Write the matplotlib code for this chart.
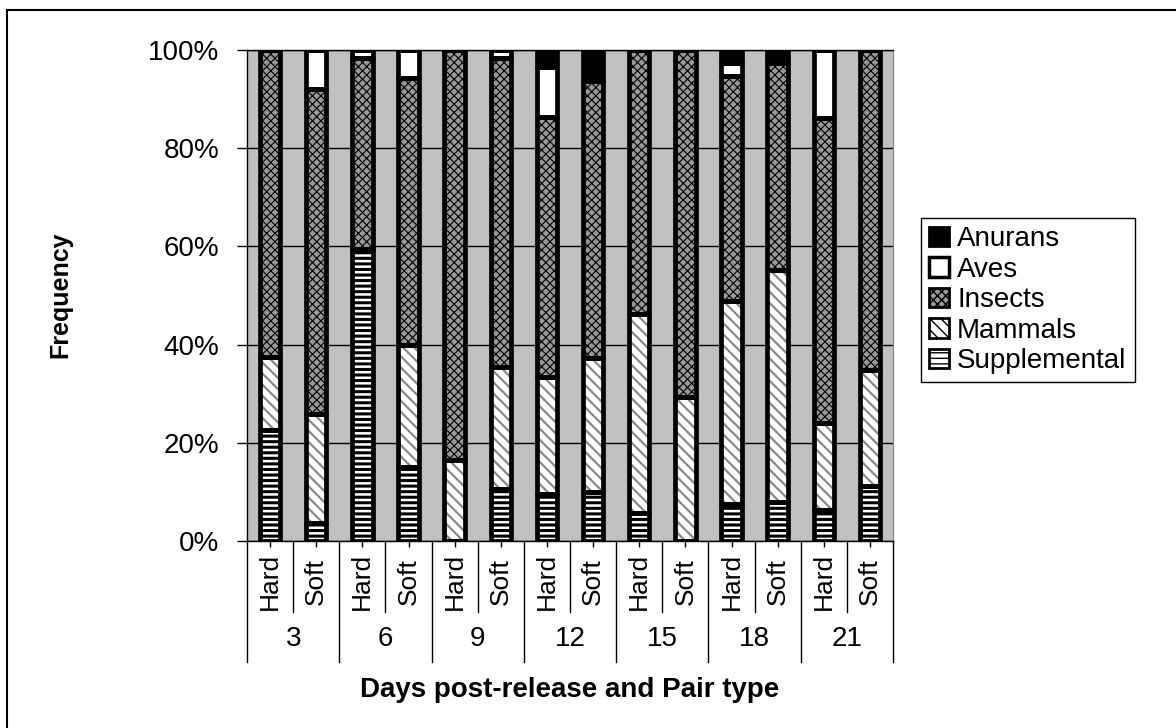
import matplotlib
matplotlib.use("Agg")
import matplotlib.pyplot as plt
import matplotlib.transforms as mtransforms
from matplotlib.patches import Patch
from matplotlib.lines import Line2D
from matplotlib.ticker import PercentFormatter, MultipleLocator
import numpy as np

# diet composition per observation day and pair type (percent of items)
days = ["3", "6", "9", "12", "15", "18", "21"]
pair_types = ["Hard", "Soft"]

supplemental = [22.6, 3.7, 59.0, 15.0, 0.0, 10.5, 9.5, 10.0, 5.7, 0.0, 7.5, 8.0, 6.3, 11.2]
mammals = [14.9, 22.2, 0.5, 25.0, 16.5, 24.9, 23.9, 27.3, 40.5, 29.3, 41.4, 47.2, 17.7, 23.6]
insects = [62.5, 66.1, 38.8, 54.3, 83.5, 62.9, 53.0, 56.4, 53.8, 70.7, 45.8, 42.1, 62.2, 65.2]
aves = [0.0, 8.0, 1.7, 5.7, 0.0, 1.7, 10.1, 0.0, 0.0, 0.0, 2.6, 0.0, 13.8, 0.0]
anurans = [0.0, 0.0, 0.0, 0.0, 0.0, 0.0, 3.5, 6.3, 0.0, 0.0, 2.7, 2.7, 0.0, 0.0]

plt.rcParams["font.family"] = ["Liberation Sans", "DejaVu Sans"]

W, H = 1176, 728
fig = plt.figure(figsize=(W / 100, H / 100), dpi=100)
fig.patch.set_facecolor("white")

ax = fig.add_axes([247 / W, 1 - 541 / H, (893 - 247) / W, (541 - 50) / H])
ax.set_facecolor("#c0c0c0")

n = len(days) * len(pair_types)
x = np.arange(n)
bar_w = 0.44

# (label, values, face, hatch, hatch colour, hatch width)
layers = [
    ("Supplemental", supplemental, "white", "---", "black", 2.2),
    ("Mammals", mammals, "white", "\\\\\\", "#8a8a8a", 1.6),
    ("Insects", insects, "#989898", "xxxx", "black", 0.8),
    ("Aves", aves, "white", None, "black", 1.0),
    ("Anurans", anurans, "black", None, "black", 1.0),
]

bottom = np.zeros(n)
for label, vals, face, hatch, hcol, hlw in layers:
    vals = np.asarray(vals, dtype=float)
    with plt.rc_context({"hatch.linewidth": hlw}):
        fills = ax.bar(x, vals, bar_w, bottom=bottom, color=face,
                       edgecolor=hcol, linewidth=0, hatch=hatch, zorder=2)
    for p in fills:
        if hasattr(p, "set_hatch_linewidth"):
            p.set_hatch_linewidth(hlw)
    ax.bar(x, vals, bar_w, bottom=bottom, fill=False, edgecolor="black",
           linewidth=3.4, joinstyle="round", zorder=3)
    bottom += vals

ax.set_xlim(-0.5, n - 0.5)
ax.set_ylim(0, 100)
ax.yaxis.set_major_locator(MultipleLocator(20))
ax.yaxis.set_major_formatter(PercentFormatter(100, decimals=0))
ax.yaxis.grid(True, color="black", linewidth=1)
ax.set_axisbelow(True)
ax.tick_params(axis="y", labelsize=20, length=7, width=1, pad=13)
ax.set_xticks(x)
ax.set_xticklabels([])
ax.tick_params(axis="x", length=4, width=1, direction="out")

for side in ["left", "bottom", "top"]:
    ax.spines[side].set_color("black")
    ax.spines[side].set_linewidth(1)
ax.spines["right"].set_color("#808080")

# two-tier category axis: pair type over day
trans = mtransforms.blended_transform_factory(ax.transData, ax.transAxes)
for i in range(n + 1):
    xb = i - 0.5
    y_end = -0.246 if i % 2 == 0 else -0.145
    ax.add_line(Line2D([xb, xb], [0, y_end], transform=trans, color="black",
                       linewidth=1, clip_on=False))

for i in range(n):
    ax.text(i, -0.083, pair_types[i % 2], transform=trans, rotation=90,
            ha="center", va="center", fontsize=19)

for g, d in enumerate(days):
    ax.text(2 * g + 0.5, -0.2, d, transform=trans, ha="center", va="center",
            fontsize=20)

fig.text(570 / W, 1 - 690 / H, "Days post-release and Pair type", ha="center",
         va="center", fontsize=20, fontweight="bold")
fig.text(60 / W, 1 - 295 / H, "Frequency", rotation=90, ha="center",
         va="center", fontsize=18, fontweight="bold")

handles = [
    Patch(facecolor="black", edgecolor="black", linewidth=2, label="Anurans"),
    Patch(facecolor="white", edgecolor="black", linewidth=2.5, label="Aves"),
    Patch(facecolor="#989898", edgecolor="black", linewidth=2, hatch="xxxx",
          label="Insects"),
    Patch(facecolor="white", edgecolor="black", linewidth=2, hatch="\\\\\\",
          label="Mammals"),
    Patch(facecolor="white", edgecolor="black", linewidth=2, hatch="---",
          label="Supplemental"),
]
leg = fig.legend(handles=handles, loc="upper left",
                 bbox_to_anchor=(921 / W, 1 - 218 / H), fontsize=20,
                 frameon=True, fancybox=False, framealpha=1,
                 edgecolor="black", handlelength=0.7, handleheight=0.7,
                 handletextpad=0.3, labelspacing=0.16, borderpad=0.3,
                 borderaxespad=0)
leg.get_frame().set_linewidth(1)

# outer chart border
fig.add_artist(Line2D([7 / W, 7 / W], [0, 1 - 10 / H], color="black",
                      linewidth=1.5))
fig.add_artist(Line2D([7 / W, 1], [1 - 10 / H, 1 - 10 / H], color="black",
                      linewidth=1.5))

fig.savefig("out.png", dpi=100)
